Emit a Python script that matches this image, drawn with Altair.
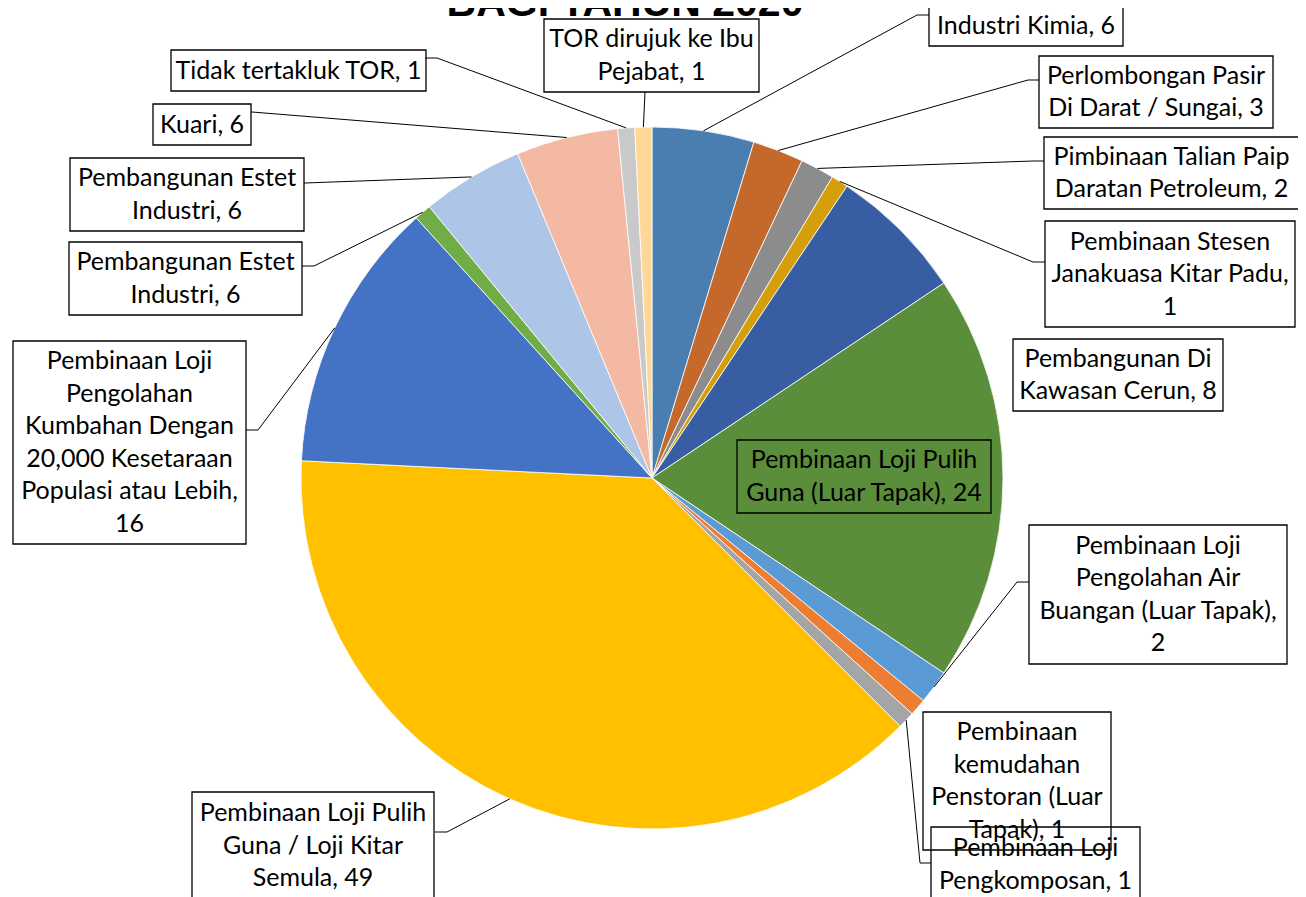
import altair as alt
import numpy as np
import pandas as pd

# ---------------- data ----------------
categories = [
    "Industri Kimia",
    "Perlombongan Pasir Di Darat / Sungai",
    "Pimbinaan Talian Paip Daratan Petroleum",
    "Pembinaan Stesen Janakuasa Kitar Padu",
    "Pembangunan Di Kawasan Cerun",
    "Pembinaan Loji Pulih Guna (Luar Tapak)",
    "Pembinaan Loji Pengolahan Air Buangan (Luar Tapak)",
    "Pembinaan kemudahan Penstoran (Luar Tapak)",
    "Pembinaan Loji Pengkomposan",
    "Pembinaan Loji Pulih Guna / Loji Kitar Semula",
    "Pembinaan Loji Pengolahan Kumbahan Dengan 20,000 Kesetaraan Populasi atau Lebih",
    "Pembangunan Estet Industri",
    "Pembangunan Estet Industri ",
    "Kuari",
    "Tidak tertakluk TOR",
    "TOR dirujuk ke Ibu Pejabat",
]
values = [6, 3, 2, 1, 8, 24, 2, 1, 1, 49, 16, 1, 6, 6, 1, 1]

label_texts = [
    "Industri Kimia, 6",
    "Perlombongan Pasir\nDi Darat / Sungai, 3",
    "Pimbinaan Talian Paip\nDaratan Petroleum, 2",
    "Pembinaan Stesen\nJanakuasa Kitar Padu,\n1",
    "Pembangunan Di\nKawasan Cerun, 8",
    "Pembinaan Loji Pulih\nGuna (Luar Tapak), 24",
    "Pembinaan Loji\nPengolahan Air\nBuangan (Luar Tapak),\n2",
    "Pembinaan\nkemudahan\nPenstoran (Luar\nTapak), 1",
    "Pembinaan Loji\nPengkomposan, 1",
    "Pembinaan Loji Pulih\nGuna / Loji Kitar\nSemula, 49",
    "Pembinaan Loji\nPengolahan\nKumbahan Dengan\n20,000 Kesetaraan\nPopulasi atau Lebih,\n16",
    "Pembangunan Estet\nIndustri, 6",
    "Pembangunan Estet\nIndustri, 6",
    "Kuari, 6",
    "Tidak tertakluk TOR, 1",
    "TOR dirujuk ke Ibu\nPejabat, 1",
]
title_text = "BAGI TAHUN 2020"

# ---------------- styles ----------------
colors = ["#4A7EB0", "#C5682B", "#8C8C8C", "#D49F0A", "#375EA3", "#5B8E3B",
          "#5B9BD5", "#ED7D31", "#A5A5A5", "#FFC000", "#4472C4", "#70AD47",
          "#ADC5E7", "#F4B9A2", "#C9C9C9", "#FFD898"]
LINE_H = 32.5

# ---------------- layout (page pixels) ----------------
OFF = 8
W, H = 1290, 889
CX, CY, R = 652, 478, 351

box_x0 = [929, 1039, 1044, 1045, 1013, 737, 1029, 923, 931, 192, 13, 69, 70, 153, 171, 544]
box_x1 = [1123, 1273, 1299, 1295, 1223, 991, 1287, 1111, 1140, 434, 246, 302, 304, 251, 426, 759]
box_y0 = [6, 56, 137, 221, 339, 440, 525, 712, 827, 792, 341, 242, 158, 104, 50, 19]
box_y1 = [46, 128, 209, 327, 411, 513, 664, 850, 902, 899, 544, 315, 231, 145, 91, 92]

lead_ex = [917, 1028, 1033, 1033, None, None, 1017, None, 920, 447, 258, 314, 305, 252, 437, 645]
lead_ey = [15, 80, 161, 262, None, None, 582, None, 863, 832, 430, 266, 183, 112, 58, 92]
lead_bx = [929, 1039, 1044, 1045, None, None, 1029, None, 931, 435, 246, 302, 304, 251, 425, 645]
lead_by = [15, 80, 161, 262, None, None, 582, None, 863, 832, 430, 266, 183, 112, 58, 92]

# ---------------- tables ----------------
ids = list(range(len(values)))
pie_df = pd.DataFrame({"id": ids, "cat": categories, "value": values})

vals = np.array(values, dtype=float)
cum = np.cumsum(vals)
mid = (cum - vals / 2) / vals.sum() * 2 * np.pi
anc_x = CX + R * np.sin(mid)
anc_y = CY - R * np.cos(mid)

rows = []
for i in ids:
    if lead_ex[i] is None:
        continue
    pts = [(anc_x[i], anc_y[i]), (lead_ex[i], lead_ey[i]), (lead_bx[i], lead_by[i])]
    for s, (px, py) in enumerate(pts):
        rows.append({"id": i, "seq": s, "px": px - OFF, "py": py - OFF})
lead_df = pd.DataFrame(rows)

box_df = pd.DataFrame({
    "id": ids,
    "x0": [v - OFF for v in box_x0], "x1": [v - OFF for v in box_x1],
    "y0": [v - OFF for v in box_y0], "y1": [v - OFF for v in box_y1],
    "label": label_texts,
})
box_df["cx"] = (box_df["x0"] + box_df["x1"]) / 2
nlines = np.array([t.count("\n") + 1 for t in label_texts])
box_df["cy"] = (box_df["y0"] + box_df["y1"]) / 2 - (nlines - 1) * LINE_H / 2

title_df = pd.DataFrame({"t": [title_text], "px": [625 - OFF], "py": [16 - OFF]})

xs = alt.Scale(domain=[0, W], range=[0, W], nice=False, zero=False)
ys = alt.Scale(domain=[0, H], range=[0, H], nice=False, zero=False)

pie = alt.Chart(pie_df).mark_arc(outerRadius=R, stroke="white", strokeWidth=0.8).encode(
    theta=alt.Theta("value:Q", stack=True),
    order=alt.Order("id:Q", sort="ascending"),
    color=alt.Color("id:N", scale=alt.Scale(domain=ids, range=colors), legend=None),
    x=alt.value(CX - OFF),
    y=alt.value(CY - OFF),
)

leaders = alt.Chart(lead_df).mark_line(color="black", strokeWidth=1).encode(
    x=alt.X("px:Q", scale=xs, axis=None),
    y=alt.Y("py:Q", scale=ys, axis=None),
    detail="id:N",
    order="seq:Q",
)

boxes = alt.Chart(box_df).mark_rect(fillOpacity=0, stroke="black", strokeWidth=1.3).encode(
    x=alt.X("x0:Q", scale=xs, axis=None),
    x2="x1:Q",
    y=alt.Y("y0:Q", scale=ys, axis=None),
    y2="y1:Q",
)

texts = alt.Chart(box_df).mark_text(
    font="Lato", fontSize=25, lineBreak="\n", lineHeight=LINE_H,
    align="center", baseline="middle", color="black",
).encode(
    x=alt.X("cx:Q", scale=xs, axis=None),
    y=alt.Y("cy:Q", scale=ys, axis=None),
    text="label:N",
)

title = alt.Chart(title_df).mark_text(
    font="Liberation Sans", fontSize=41, fontWeight="bold",
    align="center", baseline="alphabetic", color="black",
).encode(
    x=alt.X("px:Q", scale=xs, axis=None),
    y=alt.Y("py:Q", scale=ys, axis=None),
    text="t:N",
)

chart = alt.layer(pie, leaders, boxes, texts, title).properties(
    width=W, height=H, padding=0,
    autosize=alt.AutoSizeParams(type="none"),
).configure_view(strokeWidth=0)

chart.save("out.html", embed_options={"renderer": "svg", "actions": False})
